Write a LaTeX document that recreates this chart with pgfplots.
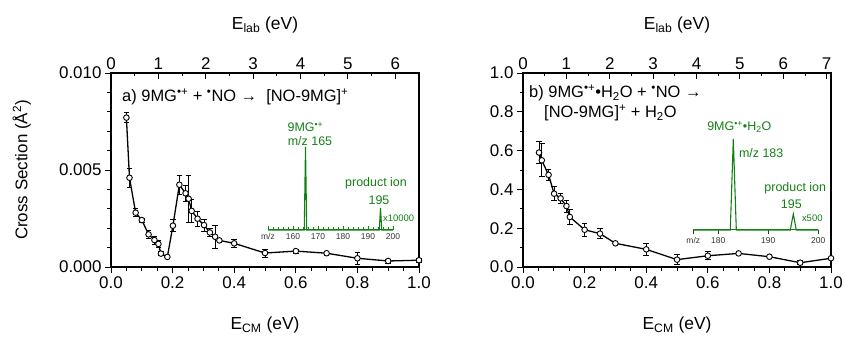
\documentclass[border=0pt]{standalone}
\usepackage{fontspec}
\setmainfont{Liberation Sans}
\usepackage{pgfplots}
\pgfplotsset{compat=1.18}
\usepackage{pgfplotstable}
\definecolor{specgreen}{RGB}{20,128,20}

\pgfplotstableread{
x y e
0.050 0.00770 0.00025
0.060 0.00460 0.00050
0.080 0.00280 0.00020
0.100 0.00242 0.00010
0.122 0.00168 0.00020
0.141 0.00139 0.00020
0.154 0.00119 0.00020
0.162 0.00069 0.00010
0.183 0.00052 0.00010
0.201 0.00213 0.00030
0.222 0.00424 0.00050
0.242 0.00380 0.00040
0.252 0.00352 0.00120
0.262 0.00289 0.00060
0.281 0.00249 0.00040
0.302 0.00216 0.00030
0.321 0.00178 0.00020
0.338 0.00156 0.00060
0.352 0.00137 0.00010
0.400 0.00122 0.00020
0.500 0.00072 0.00020
0.600 0.00082 0.00010
0.700 0.00071 0.00010
0.800 0.00045 0.00030
0.900 0.00031 0.00010
1.000 0.00035 0.00010
}\datA

\pgfplotstableread{
x y e
0.052 0.590 0.055
0.061 0.550 0.085
0.083 0.475 0.030
0.101 0.378 0.035
0.122 0.354 0.025
0.141 0.314 0.030
0.152 0.258 0.040
0.200 0.192 0.035
0.250 0.172 0.025
0.300 0.122 0.008
0.400 0.091 0.030
0.500 0.038 0.025
0.600 0.058 0.020
0.700 0.070 0.000
0.800 0.053 0.000
0.900 0.022 0.010
1.000 0.045 0.000
}\datB

\pgfplotstableread{
mz I
150 0
164.5 0
165 1
165.5 0
194.5 0
195 0.265
195.5 0
200 0
}\specA

\pgfplotstableread{
mz I
175 0
182.4 0
183 1
183.6 0
194.4 0
195 0.176
195.6 0
200 0
}\specB

\tikzset{inlab/.style={specgreen, font=\fontsize{12.5}{14}\selectfont, inner sep=0pt},
  ptext/.style={anchor=west, font=\fontsize{16.5}{19}\selectfont, inner sep=0pt}}

\pgfplotsset{
  mainax/.style={scale only axis, width=308bp, height=194bp, xmin=0, xmax=1,
    xtick={0,0.2,0.4,0.6,0.8,1.0}, minor x tick num=3,
    tick align=outside, xtick pos=bottom, ytick pos=left,
    major tick length=6bp, minor tick length=3.5bp,
    every tick/.style={black, line width=0.9bp},
    axis line style={line width=1.2bp},
    ticklabel style={font=\fontsize{17}{20}\selectfont},
    /pgf/number format/assume math mode=true,
    xticklabel style={/pgf/number format/.cd, fixed, fixed zerofill, precision=1},
    xlabel={E\textsubscript{CM} (eV)},
    xlabel style={font=\fontsize{17.5}{20}\selectfont, at={(axis description cs:0.5,-0.3)}, anchor=center},
    clip=false},
  topax/.style={scale only axis, width=308bp, height=194bp, axis x line*=top, axis y line=none,
    ymin=0, ymax=1, tick align=inside, minor x tick num=1,
    major tick length=6bp, minor tick length=3.5bp,
    every tick/.style={black, line width=0.9bp},
    axis line style={line width=1.2bp},
    ticklabel style={font=\fontsize{17}{20}\selectfont},
    /pgf/number format/assume math mode=true,
    xlabel={E\textsubscript{lab} (eV)},
    xlabel style={font=\fontsize{17.5}{20}\selectfont, at={(axis description cs:0.5,1.247)}, anchor=center}},
  errplot/.style={only marks, mark=none, forget plot,
    error bars/.cd, y dir=both, y explicit,
    error bar style={black, line width=0.8bp, solid},
    error mark options={black, rotate=90, mark size=2.8bp, line width=0.8bp}},
  dataplot/.style={black, line width=1.3bp, mark=*, mark size=2.8bp,
    mark options={fill=white, draw=black, line width=0.9bp}},
  insetax/.style={scale only axis, width=125bp, axis x line*=bottom, axis y line=none,
    ymin=0, ymax=1, clip=false, minor x tick num=4,
    axis line style={specgreen, line width=1bp},
    major tick length=4bp, minor tick length=2.5bp,
    ticklabel style={font=\fontsize{8.5}{10}\selectfont, text=black!80},
    /pgf/number format/assume math mode=true},
  spec/.style={specgreen, line width=1.1bp, mark=none},
}

\begin{document}
\begin{tikzpicture}
\path[use as bounding box] (0bp,0bp) rectangle (845bp,337bp);

% ---------- Panel a ----------
\begin{axis}[mainax, at={(111bp,70bp)}, anchor=south west,
  ymin=0, ymax=0.010, ytick={0,0.005,0.010}, minor y tick num=4,
  scaled y ticks=false,
  yticklabel style={/pgf/number format/.cd, fixed, fixed zerofill, precision=3},
  ylabel={Cross Section (Å\textsuperscript{2})},
  ylabel style={font=\fontsize{17}{20}\selectfont, at={(axis description cs:-0.29,0.5)}, anchor=center}]
\addplot[errplot] table[x=x, y=y, y error=e] {\datA};
\addplot[dataplot] table[x=x, y=y] {\datA};
\end{axis}
\begin{axis}[topax, at={(111bp,70bp)}, anchor=south west, xmin=0, xmax=6.5, xtick={0,1,2,3,4,5,6}]
\end{axis}
\node[ptext] at (122bp,240bp)
  {a) 9MG\textsuperscript{•+} + \textsuperscript{•}NO →\ \ [NO-9MG]\textsuperscript{+}};

% inset a
\begin{axis}[insetax, at={(268bp,107bp)}, anchor=south west, height=83bp,
  xmin=150, xmax=200, xtick={150,160,170,180,190,200},
  xticklabels={m/z,160,170,180,190,200}, tick align=inside,
  every tick/.style={specgreen, line width=0.7bp}]
\addplot[spec] table[x=mz, y=I] {\specA};
\node[inlab, anchor=center] at (axis cs:165,1.24) {9MG\textsuperscript{•+}};
\node[inlab, anchor=center] at (axis cs:166.8,1.07) {m/z 165};
\node[inlab, anchor=center] at (axis cs:193.2,0.566) {product ion};
\node[inlab, anchor=center] at (axis cs:194.4,0.36) {195};
\node[inlab, anchor=west, font=\fontsize{9.5}{11}\selectfont] at (axis cs:196,0.145) {x10000};
\end{axis}

% ---------- Panel b ----------
\begin{axis}[mainax, at={(523bp,70bp)}, anchor=south west,
  ymin=0, ymax=1.0, ytick={0,0.2,0.4,0.6,0.8,1.0}, minor y tick num=1,
  yticklabel style={/pgf/number format/.cd, fixed, fixed zerofill, precision=1}]
\addplot[errplot] table[x=x, y=y, y error=e] {\datB};
\addplot[dataplot] table[x=x, y=y] {\datB};
\end{axis}
\begin{axis}[topax, at={(523bp,70bp)}, anchor=south west, xmin=0, xmax=7.1, xtick={0,1,2,3,4,5,6,7}]
\end{axis}
\node[ptext] at (529bp,244bp)
  {b) 9MG\textsuperscript{•+}•H\textsubscript{2}O + \textsuperscript{•}NO →};
\node[ptext] at (544bp,224bp)
  {[NO-9MG]\textsuperscript{+} + H\textsubscript{2}O};

% inset b
\begin{axis}[insetax, at={(693.3bp,107bp)}, anchor=south west, height=91bp,
  xmin=175, xmax=200, xtick={175,180,190,200},
  xticklabels={m/z,180,190,200}, tick align=outside,
  every tick/.style={black!80, line width=0.7bp}]
\addplot[spec] table[x=mz, y=I] {\specB};
\node[inlab, anchor=center] at (axis cs:184.2,1.135) {9MG\textsuperscript{•+}•H\textsubscript{2}O};
\node[inlab, anchor=west] at (axis cs:184.1,0.85) {m/z 183};
\node[inlab, anchor=center] at (axis cs:195.4,0.458) {product ion};
\node[inlab, anchor=center] at (axis cs:194.6,0.286) {195};
\node[inlab, anchor=west, font=\fontsize{9.5}{11}\selectfont] at (axis cs:196.7,0.128) {x500};
\end{axis}
\end{tikzpicture}
\end{document}
